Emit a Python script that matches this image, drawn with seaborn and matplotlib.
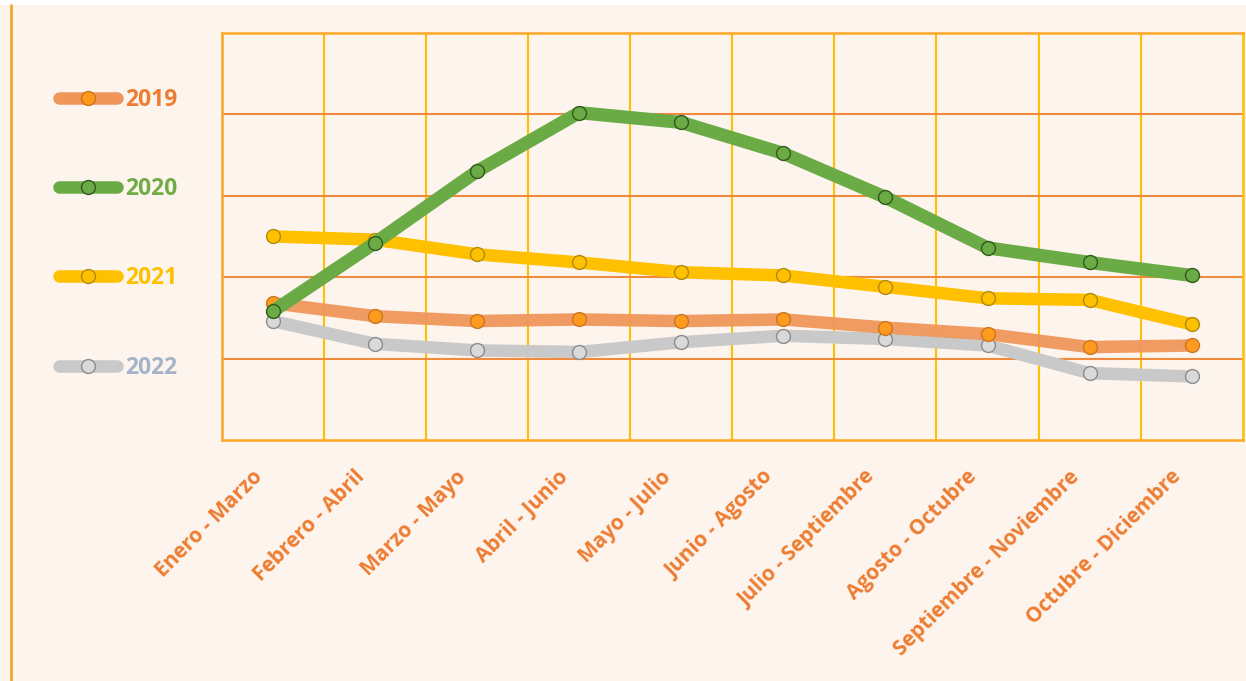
import numpy as np
import pandas as pd
import matplotlib
matplotlib.use('Agg')
import matplotlib.pyplot as plt
import matplotlib.transforms as mtransforms
from matplotlib.lines import Line2D
from matplotlib.patches import Rectangle
import seaborn as sns

# datos (unidades arbitrarias, el eje Y no tiene etiquetas)
periodos = ['Enero - Marzo', 'Febrero - Abril', 'Marzo - Mayo', 'Abril - Junio', 'Mayo - Julio',
            'Junio - Agosto', 'Julio - Septiembre', 'Agosto - Octubre', 'Septiembre - Noviembre',
            'Octubre - Diciembre']
v2019 = [8.4, 7.6, 7.3, 7.4, 7.3, 7.4, 6.9, 6.5, 5.7, 5.8]
v2020 = [7.9, 12.1, 16.5, 20.1, 19.5, 17.6, 14.9, 11.8, 10.9, 10.1]
v2021 = [12.5, 12.3, 11.4, 10.9, 10.3, 10.1, 9.4, 8.7, 8.6, 7.1]
v2022 = [7.3, 5.9, 5.5, 5.4, 6.0, 6.4, 6.2, 5.8, 4.1, 3.9]
anios = ['2019', '2020', '2021', '2022']

BG = '#FDF4EE'
sns.set_theme(style='white')
plt.rcParams['font.family'] = ['Open Sans', 'DejaVu Sans']

df = pd.DataFrame({'pos': np.arange(len(periodos)), '2019': v2019, '2020': v2020,
                   '2021': v2021, '2022': v2022})
largo = df.melt(id_vars='pos', var_name='anio', value_name='valor')

# estilo: color de línea, relleno del marcador, borde del marcador, color de texto
estilos = {
    '2019': ('#F0965A', '#FF9A1A', '#C9741E', '#ED7D31'),
    '2020': ('#6AAB46', '#6AAB46', '#2F5A1C', '#70AD47'),
    '2021': ('#FFC000', '#FFC000', '#B08A10', '#FFC000'),
    '2022': ('#C9C9C9', '#D9D9D9', '#8C8C8C', '#A5B4C8'),
}
orden = ['2022', '2021', '2019', '2020']

fig = plt.figure(figsize=(12.46, 6.81), dpi=100, facecolor=BG)
ax = fig.add_axes([0.178, 0.354, 0.8194, 0.5977])
ax.set_facecolor(BG)

for a in orden:
    lc, mf, me, _ = estilos[a]
    sns.lineplot(data=largo[largo['anio'] == a], x='pos', y='valor', ax=ax, color=lc,
                 linewidth=9.5 if a == '2020' else 9, marker='o', markersize=10,
                 markerfacecolor=mf, markeredgecolor=me, markeredgewidth=1.0,
                 alpha=0.95 if a == '2019' else 1, solid_capstyle='round', legend=False)

ax.set_xlim(-0.5, len(periodos) - 0.5)
ax.set_ylim(0, 25)
ax.set_yticks([5, 10, 15, 20])
ax.set_yticklabels([])
ax.tick_params(axis='y', length=0)
ax.set_xticks(np.arange(len(periodos)))
ax.set_xticklabels(periodos, rotation=45, ha='right', rotation_mode='anchor',
                   color='#ED7D31', fontsize=15, fontweight='bold')
ax.tick_params(axis='x', length=0, pad=19)
desplaza = mtransforms.ScaledTranslation(-0.21, 0.0, fig.dpi_scale_trans)
for lbl in ax.get_xticklabels():
    lbl.set_transform(lbl.get_transform() + desplaza)
ax.set_xlabel('')
ax.set_ylabel('')

ax.set_xticks(np.arange(len(periodos) - 1) + 0.5, minor=True)
ax.grid(False)
ax.grid(axis='y', which='major', color='#F08A3C', linewidth=1.5)
ax.grid(axis='x', which='minor', color='#FFC000', linewidth=1.5)
ax.tick_params(which='minor', length=0)
for lado, col in [('top', '#FFA726'), ('bottom', '#FFA726'), ('left', '#F5A623'), ('right', '#FFC000')]:
    ax.spines[lado].set_visible(True)
    ax.spines[lado].set_color(col)
    ax.spines[lado].set_linewidth(1.8)
ax.set_axisbelow(True)

# leyenda a la izquierda
manejadores = []
for a in anios:
    lc, mf, me, _ = estilos[a]
    manejadores.append(Line2D([0], [0], color=lc, linewidth=9, marker='o', markersize=10,
                              markerfacecolor=mf, markeredgecolor=me, solid_capstyle='round'))
ley = fig.legend(manejadores, anios, loc='upper left', bbox_to_anchor=(0.038, 0.888),
                 frameon=False, fontsize=16.5, handlelength=2.55, handletextpad=0.35,
                 labelspacing=2.85, borderpad=0)
for t, a in zip(ley.get_texts(), anios):
    t.set_color(estilos[a][3])
    t.set_fontweight('bold')

# borde izquierdo y franja blanca superior del recorte original
fig.add_artist(Line2D([0.0085, 0.0085], [0.0, 0.993], transform=fig.transFigure,
                      color='#F5A623', linewidth=2))
fig.add_artist(Rectangle((0, 0.993), 1, 0.007, transform=fig.transFigure,
                         facecolor='white', edgecolor='none'))

fig.savefig('out.png', dpi=100, facecolor=BG)
